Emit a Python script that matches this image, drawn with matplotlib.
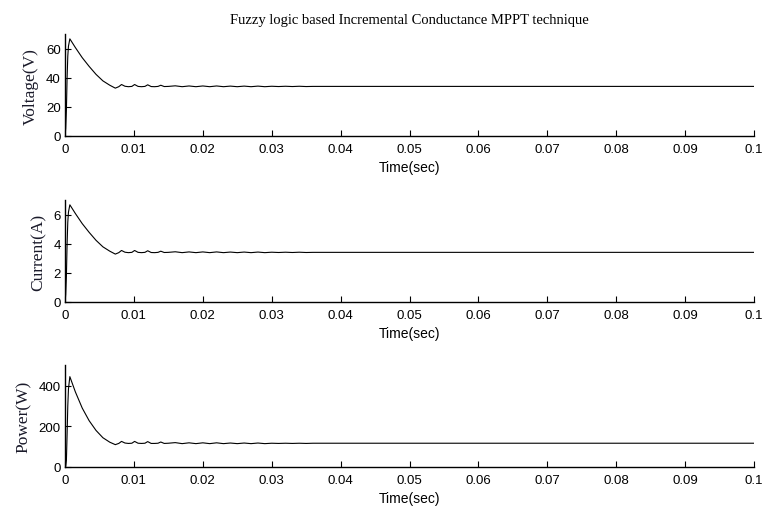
import matplotlib.pyplot as plt

# time samples (s) shared by the three traces
time_s = [0.0, 0.0001, 0.0002, 0.0003, 0.0004, 0.0005, 0.0007, 0.0015, 0.0025,
          0.0035, 0.0045, 0.0055, 0.0065, 0.0073, 0.0078, 0.0082, 0.0087,
          0.0092, 0.0097, 0.0101, 0.0106, 0.0111, 0.0116, 0.0120, 0.0125,
          0.0130, 0.0135, 0.0139, 0.0144, 0.0150, 0.0160, 0.0170, 0.0180,
          0.0190, 0.0200, 0.0210, 0.0220, 0.0230, 0.0240, 0.0250, 0.0260,
          0.0270, 0.0280, 0.0290, 0.0300, 0.0310, 0.0320, 0.0330, 0.0340,
          0.0350, 0.0360, 0.1000]

voltage = [0, 5, 18, 40, 55, 62, 67, 61, 54, 48, 42.5, 38, 35, 33, 34,
           35.5, 34.3, 34, 34.2, 35.5, 34.2, 34, 34.2, 35.3, 34.1, 34, 34.2,
           35.0, 34.1, 34.2, 34.6, 34.0, 34.5, 34.0, 34.5, 34.0, 34.5, 34.0,
           34.4, 34.0, 34.4, 34.0, 34.4, 34.0, 34.3, 34.1, 34.3, 34.1, 34.3,
           34.1, 34.2, 34.2]

current = [0, 0.5, 1.8, 4.0, 5.5, 6.2, 6.7, 6.1, 5.4, 4.8, 4.25, 3.8, 3.5,
           3.3, 3.4, 3.55, 3.43, 3.4, 3.42, 3.55, 3.42, 3.4, 3.42, 3.53, 3.41,
           3.4, 3.42, 3.50, 3.41, 3.42, 3.46, 3.40, 3.45, 3.40, 3.45, 3.40,
           3.45, 3.40, 3.44, 3.40, 3.44, 3.40, 3.44, 3.40, 3.43, 3.41, 3.43,
           3.41, 3.43, 3.41, 3.42, 3.42]

power = [0, 3, 32, 160, 300, 385, 445, 370, 290, 228, 180, 144, 122, 110,
         116, 126, 118, 116, 117, 126, 117, 116, 117, 125, 116, 116, 117,
         123, 116, 117, 120, 115, 119, 115, 119, 115, 119, 115, 118, 115,
         118, 115, 118, 115, 117, 116, 117, 116, 117, 116, 117, 117]

xticks = [0, 0.01, 0.02, 0.03, 0.04, 0.05, 0.06, 0.07, 0.08, 0.09, 0.1]
xticklabels = ["0", "0.01", "0.02", "0.03", "0.04", "0.05", "0.06", "0.07",
               "0.08", "0.09", "0.1"]

panels = [
    (voltage, "Voltage(V)", (0, 70), [0, 20, 40, 60]),
    (current, "Current(A)", (0, 7), [0, 2, 4, 6]),
    (power, "Power(W)", (0, 500), [0, 200, 400]),
]

plt.rcParams["font.family"] = ["Liberation Sans", "DejaVu Sans"]

fig = plt.figure(figsize=(7.65, 5.1), dpi=100)
bottoms = [0.7314, 0.406, 0.0824]

for (vals, ylabel, ylim, yticks), b in zip(panels, bottoms):
    ax = fig.add_axes([0.085, b, 0.9006, 0.199])
    ax.plot(time_s, vals, color="black", linewidth=0.8)
    ax.set_xlim(0, 0.1)
    ax.set_ylim(*ylim)
    ax.set_xticks(xticks)
    ax.set_xticklabels(xticklabels)
    ax.set_yticks(yticks)
    for side in ("top", "right"):
        ax.spines[side].set_visible(False)
    ax.spines["left"].set_linewidth(1.0)
    ax.spines["bottom"].set_linewidth(1.0)
    ax.tick_params(direction="in", length=4, width=0.8, labelsize=9.5)
    ax.tick_params(axis="x", pad=5)
    ax.tick_params(axis="y", pad=3)
    ax.set_xlabel("Time(sec)", fontsize=10, labelpad=4)
    ax.set_ylabel(ylabel, fontsize=12.5, family="Liberation Serif", color="#1a1a2a",
                  labelpad=5)

fig.suptitle("Fuzzy logic based Incremental Conductance MPPT technique",
             family="Liberation Serif", fontsize=10.5, x=0.535, y=0.973)

fig.savefig("out.png", dpi=100)
